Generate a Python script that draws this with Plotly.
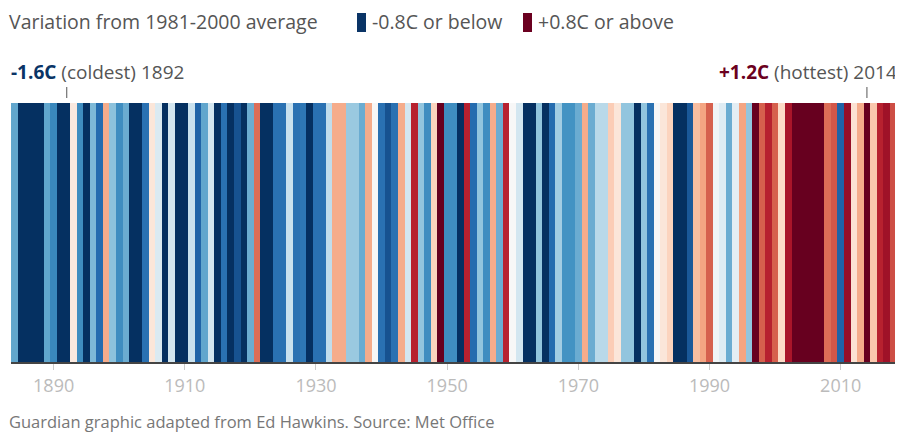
import plotly.graph_objects as go

# ---- data ----
first_year = 1884
anomalies = [
    # 1884-1893
    -0.42, -1.00, -0.90, -1.10, -1.00, -0.42, -0.52, -0.95, -1.60, 0.08,
    # 1894-1903
    -0.50, -0.90, -0.36, -0.62, 0.30, -0.33, -0.50, -0.40, -0.90, -0.85,
    # 1904-1913
    -0.60, 0.10, -0.12, -0.95, -0.15, -0.90, -0.85, -0.18, -0.65, -0.42,
    # 1914-1923
    -0.15, -0.85, -0.60, -0.95, -0.70, -0.90, -0.40, 0.45, -0.85, -0.90,
    # 1924-1933
    -0.60, -0.60, -0.18, -0.60, -0.58, -0.88, -0.60, -0.60, -0.20, 0.30,
    # 1934-1943
    0.30, -0.30, -0.30, -0.40, 0.30, 0.00, -0.60, -0.70, -0.60, 0.30,
    # 1944-1953
    -0.15, 0.62, -0.32, -0.50, 0.18, 0.85, -0.50, -0.50, -0.85, 0.62,
    # 1954-1963
    -0.62, -0.32, -0.50, 0.30, -0.40, 0.62, 0.00, -0.15, -0.90, -1.10,
    # 1964-1973
    -0.32, -0.85, -0.62, -0.28, -0.48, -0.48, -0.40, 0.30, -0.40, -0.22,
    # 1974-1983
    -0.22, 0.20, 0.10, -0.32, -0.32, -0.85, -0.32, -0.60, 0.00, 0.10,
    # 1984-1993
    0.18, -0.85, -0.90, -0.68, 0.25, 0.32, 0.48, -0.03, -0.10, -0.40,
    # 1994-2003
    -0.08, 0.32, -0.32, 0.82, 0.48, 0.62, 0.48, 0.16, 0.66, 0.85,
    # 2004-2013
    0.85, 0.82, 1.05, 0.90, 0.45, 0.50, -0.65, 0.70, 0.12, 0.30,
    # 2014-2019
    1.20, 0.22, 0.62, 0.68, 0.52, 0.82,
]
years = list(range(first_year, first_year + len(anomalies)))
tick_years = [1890, 1910, 1930, 1950, 1970, 1990, 2010]
tick_labels = [str(y) for y in tick_years]
coldest_year, coldest_value = 1892, -1.6
hottest_year, hottest_value = 2014, 1.2

# ---- styling ----
stripe_colors = [
    "#053061", "#2166ac", "#4393c3", "#92c5de", "#d1e5f0", "#f7f7f7",
    "#fddbc7", "#f4a582", "#d6604d", "#b2182b", "#67001f",
]
colorscale = [[i / (len(stripe_colors) - 1), c] for i, c in enumerate(stripe_colors)]
NAVY = "#0a3466"
MAROON = "#6b0020"
FONT = "Open Sans"

# page body has an 8px default margin; figure offset by it inside the window
OFF = 8
W, H = 903 - OFF, 432 - OFF
# plot area in window pixels: x 11..903, y 103..362
ML, MR = 11 - OFF, 0
MT, MB = 103 - OFF, H - (362 - OFF)
PW, PH = W - ML - MR, H - MT - MB


def px_x(wx):
    """window x pixel -> paper fraction"""
    return (wx - OFF - ML) / PW


def px_y(wy):
    """window y pixel -> paper fraction"""
    return (H - MB - (wy - OFF)) / PH


fig = go.Figure(
    go.Heatmap(
        x=years,
        y=[0],
        z=[anomalies],
        zmin=-0.8,
        zmax=0.8,
        colorscale=colorscale,
        showscale=False,
        hoverinfo="x+z",
    )
)

fig.update_layout(
    width=W,
    height=H,
    margin=dict(l=ML, r=MR, t=MT, b=MB, pad=0),
    paper_bgcolor="white",
    plot_bgcolor="white",
    font=dict(family=FONT, color="#555"),
    xaxis=dict(
        range=[first_year - 0.5, years[-1] + 0.5],
        tickvals=tick_years,
        ticktext=tick_labels,
        ticks="outside",
        ticklen=6,
        tickwidth=1,
        tickcolor="#cccccc",
        tickfont=dict(size=18, color="#bbbbbb", family=FONT),
        showline=True,
        linecolor="#444444",
        linewidth=2,
        showgrid=False,
        zeroline=False,
        fixedrange=True,
    ),
    yaxis=dict(visible=False, range=[-0.5, 0.5], fixedrange=True),
    showlegend=False,
)

HEAD = 19.5
ann = []
ann.append(dict(
    text="Variation from 1981-2000 average",
    xref="paper", yref="paper", x=px_x(7), y=px_y(22),
    xanchor="left", yanchor="middle", showarrow=False,
    font=dict(size=HEAD, color="#555"),
))
ann.append(dict(
    text="-0.8C or below",
    xref="paper", yref="paper", x=px_x(370), y=px_y(22),
    xanchor="left", yanchor="middle", showarrow=False,
    font=dict(size=HEAD, color="#555"),
))
ann.append(dict(
    text="+0.8C or above",
    xref="paper", yref="paper", x=px_x(536), y=px_y(22),
    xanchor="left", yanchor="middle", showarrow=False,
    font=dict(size=HEAD, color="#555"),
))
ann.append(dict(
    text=f"<b><span style='color:{NAVY}'>{coldest_value:.1f}C</span></b> (coldest) {coldest_year}",
    xref="paper", yref="paper", x=px_x(9), y=px_y(72),
    xanchor="left", yanchor="middle", showarrow=False,
    font=dict(size=19, color="#555"),
))
ann.append(dict(
    text=f"<b><span style='color:{MAROON}'>{hottest_value:+.1f}C</span></b> (hottest) {hottest_year}",
    xref="paper", yref="paper", x=px_x(899), y=px_y(72),
    xanchor="right", yanchor="middle", showarrow=False,
    font=dict(size=19, color="#555"),
))
ann.append(dict(
    text="Guardian graphic adapted from Ed Hawkins. Source: Met Office",
    xref="paper", yref="paper", x=px_x(7), y=px_y(421),
    xanchor="left", yanchor="middle", showarrow=False,
    font=dict(size=16.5, color="#777"),
))
fig.update_layout(annotations=ann)

shapes = [
    dict(type="rect", xref="paper", yref="paper",
         x0=px_x(357), x1=px_x(366), y0=px_y(32), y1=px_y(13),
         fillcolor=NAVY, line=dict(width=0)),
    dict(type="rect", xref="paper", yref="paper",
         x0=px_x(523), x1=px_x(532), y0=px_y(32), y1=px_y(13),
         fillcolor=MAROON, line=dict(width=0)),
    dict(type="line", xref="x", yref="paper",
         x0=coldest_year, x1=coldest_year, y0=px_y(98), y1=px_y(87),
         line=dict(color="#555", width=1)),
    dict(type="line", xref="x", yref="paper",
         x0=hottest_year, x1=hottest_year, y0=px_y(98), y1=px_y(87),
         line=dict(color="#555", width=1)),
]
fig.update_layout(shapes=shapes)

fig.write_html("out.html")
